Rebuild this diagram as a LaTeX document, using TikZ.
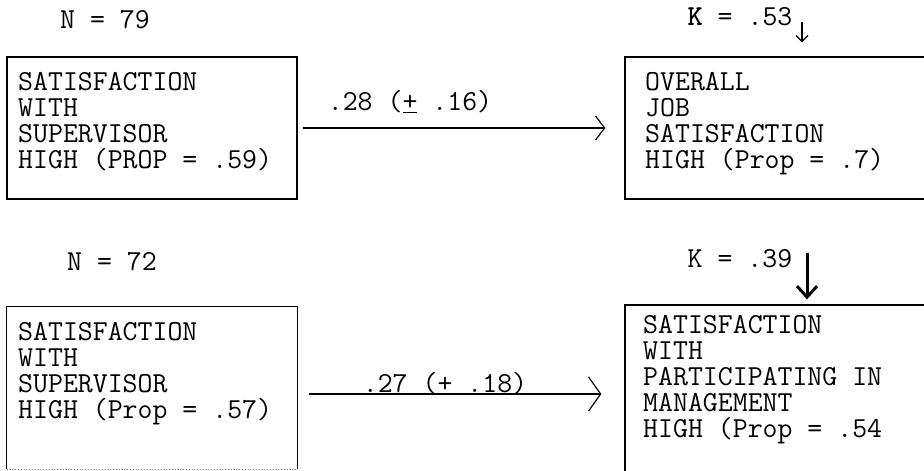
\documentclass[tikz,border=0pt]{standalone}
\usetikzlibrary{arrows.meta}
\newcommand{\boxlines}[1]{\vbox{\baselineskip=26pt\lineskiplimit=-100pt\lineskip=0pt #1}}
\newcommand{\tline}[1]{\hbox{#1}}
\begin{document}
\begin{tikzpicture}[x=1pt,y=-1pt,
  every node/.style={font=\fontsize{29}{26}\selectfont\ttfamily, inner sep=0pt, text=black},
  boxshape/.style={draw, line width=1.3pt, rectangle},
  boxblank/.style={draw=none, rectangle},
  boxline/.style={line width=1.3pt},
  txt/.style={anchor=north west},
  conn/.style={line width=1.2pt},
]
\useasboundingbox (0,0) rectangle (924,471);

% boxes
\node[boxshape, minimum width=290pt, minimum height=142pt] (b1) at (152,128) {};
\node[boxshape, minimum width=310pt, minimum height=142pt] (b2) at (780,128) {};
\node[boxblank, minimum width=290pt, minimum height=162pt] (b3) at (152,388) {};
\node[boxshape, minimum width=310pt, minimum height=178pt] (b4) at (780,394) {};
\draw[boxline] (b3.south west) -- (b3.north west) -- (b3.north east) -- (b3.south east);
\draw[line width=0.8pt, dotted, gray] (b3.south west) -- (b3.south east);

% box texts
\node[txt] (t1) at (18,72) {\boxlines{\tline{SATISFACTION}\tline{WITH}\tline{SUPERVISOR}\tline{HIGH (PROP = .59)}}};
\node[txt] (t2) at (645,72) {\boxlines{\tline{OVERALL}\tline{JOB}\tline{SATISFACTION}\tline{HIGH (Prop = .7)}}};
\node[txt] (t3) at (18,322) {\boxlines{\tline{SATISFACTION}\tline{WITH}\tline{SUPERVISOR}\tline{HIGH (Prop = .57)}}};
\node[txt] (t4) at (643,315) {\boxlines{\tline{SATISFACTION}\tline{WITH}\tline{PARTICIPATING IN}\tline{MANAGEMENT}\tline{HIGH (Prop = .54}}};

% N and K labels
\node (n1) at (105,20) {N = 79};
\node (k1) at (740,17) {{\bfseries K} = .53};
\node (n2) at (112,262) {N = 72};
\node (k2) at (740,259) {K = .39};

% K arrows
\coordinate (ka1) at (802,22);
\coordinate (ka2) at (807,253);
\draw[line width=1.3pt, -{Straight Barb[length=6pt,width=12pt]}, shorten >=14pt] (ka1) -- (ka1 |- b2.north);
\draw[line width=3pt, -{Straight Barb[length=11pt,width=20pt]}, shorten >=5pt] (ka2) -- (ka2 |- b4.north);

% connectors
\draw[conn, -{Straight Barb[length=9pt,width=24pt]}, shorten <=5pt, shorten >=19pt] (b1.east) -- (b2.west);
\draw[conn, -{Straight Barb[length=12pt,width=34pt]}, shorten <=12pt, shorten >=23pt] (b3.east |- b4.west) -- (b4.west);

% connector labels
\node (l1) at (410,102) {.28 (\underline{+} .16)};
\node (l2) at (445,384) {.27 (\underline{+} .18)};
\end{tikzpicture}
\end{document}
